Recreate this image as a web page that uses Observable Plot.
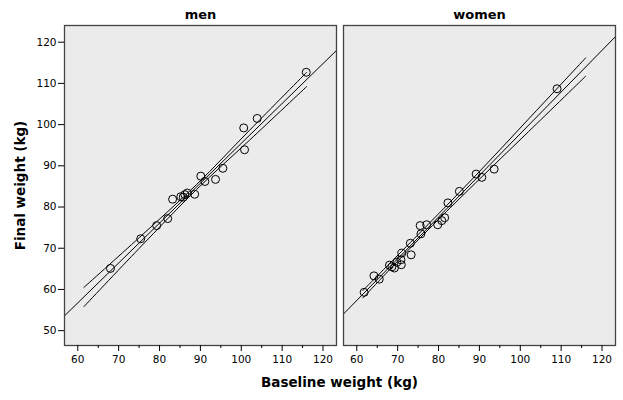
<!DOCTYPE html>
<html>
<head>
<meta charset="utf-8">
<script src="https://cdn.jsdelivr.net/npm/d3@7"></script>
<script src="https://cdn.jsdelivr.net/npm/@observablehq/plot@0.6"></script>
<style>
  body { margin: 0; background: #fff; }
  #chart svg { display: block; }
</style>
</head>
<body>
<div id="chart"></div>
<script>
// ---- data ----
const panels = ["men", "women"];

const menBaseline = [68.0, 75.4, 79.3, 82.0, 83.2, 85.2, 85.8, 86.2, 86.8, 88.6, 90.1, 91.1, 93.7, 95.5, 100.6, 100.8, 103.9, 115.9];
const menFinal    = [65.1, 72.3, 75.5, 77.2, 81.9, 82.5, 82.4, 83.0, 83.4, 83.1, 87.5, 86.2, 86.7, 89.4, 99.2, 93.9, 101.5, 112.7];

const womenBaseline = [61.8, 64.2, 65.5, 68.0, 68.6, 69.2, 69.8, 70.8, 71.0, 70.9, 73.1, 73.3, 75.5, 75.7, 77.1, 79.8, 80.8, 81.5, 82.3, 85.1, 89.2, 90.6, 93.6, 109.0];
const womenFinal    = [59.3, 63.3, 62.5, 65.9, 65.5, 65.2, 66.6, 67.2, 68.8, 66.0, 71.2, 68.4, 75.5, 73.5, 75.7, 75.7, 76.7, 77.4, 81.0, 83.8, 88.0, 87.2, 89.2, 108.7];

// fitted lines (span full panel)
const fitX      = [56.75, 123.3];
const menFitY   = [53.6, 118.0];
const womenFitY = [54.05, 121.36];

// confidence band lines
const bandX      = [61.5, 75, 89, 102, 116];
const menUpper   = [60.5, 72.55, 85.4, 98.6, 112.7];
const menLower   = [55.83, 69.95, 84.2, 96.2, 109.23];
const womenUpper = [59.75, 73.3, 87.55, 101.33, 116.19];
const womenLower = [57.95, 72.0, 85.79, 98.27, 111.75];

const xMajorTicks = [60, 70, 80, 90, 100, 110, 120];
const xMinorTicks = [65, 75, 85, 95, 105, 115];
const yTicks = [50, 60, 70, 80, 90, 100, 110, 120];

const xLabel = "Baseline weight (kg)";
const yLabel = "Final weight (kg)";

// ---- build tables ----
const points = [
  ...menBaseline.map((b, i) => ({sex: "men", baseline: b, final: menFinal[i]})),
  ...womenBaseline.map((b, i) => ({sex: "women", baseline: b, final: womenFinal[i]}))
];
const fits = [
  ...fitX.map((x, i) => ({sex: "men", x, y: menFitY[i]})),
  ...fitX.map((x, i) => ({sex: "women", x, y: womenFitY[i]}))
];
const bands = [
  ...bandX.map((x, i) => ({sex: "men", side: "upper", x, y: menUpper[i]})),
  ...bandX.map((x, i) => ({sex: "men", side: "lower", x, y: menLower[i]})),
  ...bandX.map((x, i) => ({sex: "women", side: "upper", x, y: womenUpper[i]})),
  ...bandX.map((x, i) => ({sex: "women", side: "lower", x, y: womenLower[i]}))
];

const chart = Plot.plot({
  width: 623,
  height: 400,
  marginLeft: 64,
  marginRight: 8,
  marginTop: 25,
  marginBottom: 55,
  style: {fontFamily: "DejaVu Sans, sans-serif", fontSize: "10.5px", color: "#000", background: "#fff"},
  fx: {domain: panels, paddingInner: 0.026, paddingOuter: 0, axis: null, label: null},
  x: {domain: [56.75, 123.3], label: null},
  y: {domain: [46.4, 124.05], label: null},
  marks: [
    Plot.frame({fill: "#ebebeb", stroke: "none"}),
    Plot.line(bands, {x: "x", y: "y", z: "side", fx: "sex", stroke: "#000", strokeWidth: 1, curve: "catmull-rom", clip: true}),
    Plot.line(fits, {x: "x", y: "y", fx: "sex", stroke: "#000", strokeWidth: 1, clip: true}),
    Plot.dot(points, {x: "baseline", y: "final", fx: "sex", r: 4, stroke: "#000", strokeWidth: 1, fill: "none"}),
    Plot.frame({stroke: "#444", strokeWidth: 1.3}),
    Plot.axisX({ticks: xMajorTicks, tickSize: 6, tickPadding: 4, label: null, fontSize: 10.5}),
    Plot.axisX({ticks: xMinorTicks, tickSize: 3, tickFormat: () => "", label: null}),
    Plot.axisY({ticks: yTicks, tickSize: 6, tickPadding: 2, label: null, fontSize: 10.5}),
    Plot.text(panels, {fx: d => d, text: d => d, frameAnchor: "top", lineAnchor: "middle", textAnchor: "middle", dy: -11, fontWeight: "bold", fontSize: 13}),
    Plot.text([yLabel], {fx: () => "men", text: d => d, frameAnchor: "left", lineAnchor: "middle", textAnchor: "middle", dx: -44, rotate: -90, fontWeight: "bold", fontSize: 13.5}),
    Plot.text([xLabel], {fx: () => "women", text: d => d, frameAnchor: "bottom-left", lineAnchor: "middle", textAnchor: "middle", dx: -4, dy: 37, fontWeight: "bold", fontSize: 13.5})
  ]
});
document.getElementById("chart").appendChild(chart);
</script>
</body>
</html>
